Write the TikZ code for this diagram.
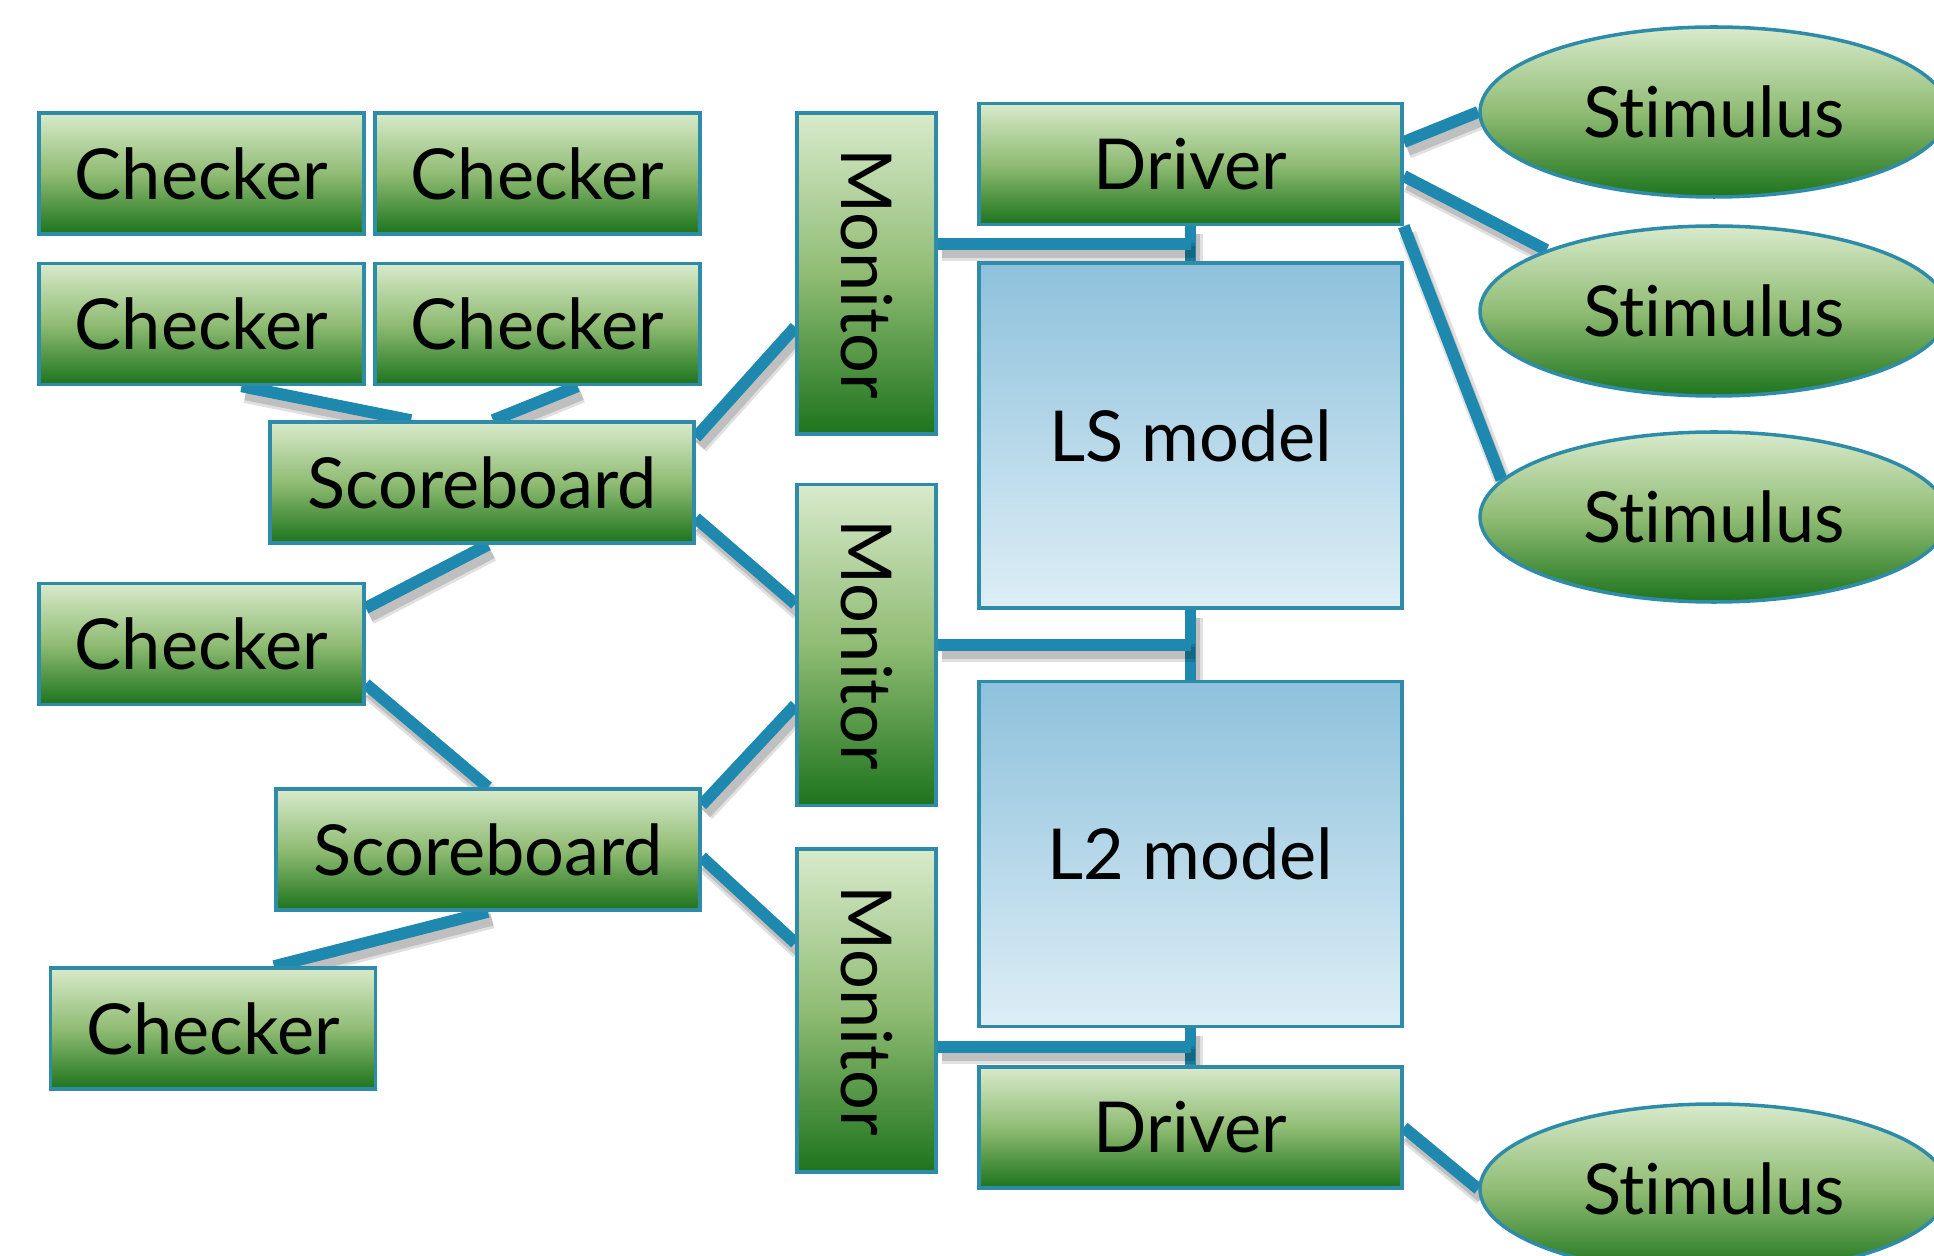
\documentclass[tikz,border=0pt]{standalone}
\usepackage{fontspec}
\setmainfont{Lato}[Ligatures=NoCommon]
\usepackage{tikz}
\usetikzlibrary{shapes.geometric, calc, backgrounds}
\definecolor{verdeclaro}{HTML}{D8EACB}
\definecolor{verdemeio}{HTML}{90BC74}
\definecolor{verdeescuro}{HTML}{1D741C}
\definecolor{azulclaro}{HTML}{DDEEF6}
\definecolor{azulmeio}{HTML}{8EC1DC}
\definecolor{borda}{HTML}{2E8CA8}
\definecolor{azulligacao}{HTML}{1E88AE}

\begin{document}
\begin{tikzpicture}[
    caixa/.style={draw=borda, line width=1pt, inner sep=0pt, minimum width=3.25cm, minimum height=1.21cm,
                  top color=verdeclaro, bottom color=verdeescuro, middle color=verdemeio,
                  font=\fontsize{20}{24}\selectfont},
    monitor/.style={caixa, minimum width=1.39cm, minimum height=3.21cm},
    modelo/.style={draw=borda, line width=1pt, inner sep=0pt, minimum width=4.23cm, minimum height=3.45cm,
                   top color=azulmeio, bottom color=azulclaro, font=\fontsize{20}{24}\selectfont},
    estimulo/.style={ellipse, draw=borda, line width=1pt, inner sep=0pt, minimum width=4.68cm, minimum height=1.70cm,
                     top color=verdeclaro, bottom color=verdeescuro, middle color=verdemeio,
                     font=\fontsize{20}{24}\selectfont},
    ligacao/.style={line width=3.4pt, draw=azulligacao,
                    preaction={draw=black, opacity=0.12, line width=5pt,
                               transform canvas={shift={(0.04,-0.08)}}},
                    preaction={draw=black, opacity=0.15, line width=3.4pt,
                               transform canvas={shift={(0.04,-0.08)}}}}
]
    \useasboundingbox (0,0) rectangle (19.34,12.55);
    \clip (0,0) rectangle (19.34,12.55);

    \node[caixa] (chk1) at (2.015,10.815) {Checker};
    \node[caixa] (chk2) at (5.375,10.815) {Checker};
    \node[caixa] (chk3) at (2.015,9.31) {Checker};
    \node[caixa] (chk4) at (5.375,9.31) {Checker};
    \node[caixa, minimum width=4.24cm] (placar1) at (4.82,7.725) {Scoreboard};
    \node[caixa] (chk5) at (2.015,6.11) {Checker};
    \node[caixa, minimum width=4.24cm] (placar2) at (4.88,4.055) {Scoreboard};
    \node[caixa] (chk6) at (2.13,2.265) {Checker};

    \node[monitor] (mon1) at (8.665,9.815) {\rotatebox{-90}{Monitor}};
    \node[monitor] (mon2) at (8.665,6.10) {\rotatebox{-90}{Monitor}};
    \node[monitor, minimum height=3.23cm] (mon3) at (8.665,2.445) {\rotatebox{-90}{Monitor}};

    \node[caixa, minimum width=4.23cm] (drv1) at (11.905,10.91) {Driver};
    \node[modelo] (ls) at (11.905,8.195) {LS model};
    \node[modelo] (l2) at (11.905,4.01) {L2 model};
    \node[caixa, minimum width=4.23cm] (drv2) at (11.905,1.275) {Driver};

    \node[estimulo] (est1) at (17.14,11.43) {Stimulus};
    \node[estimulo] (est2) at (17.14,9.44) {Stimulus};
    \node[estimulo] (est3) at (17.14,7.38) {Stimulus};
    \node[estimulo] (est4) at (17.14,0.66) {Stimulus};

    \begin{scope}[on background layer]
        \draw[ligacao] ([xshift=0.4cm]chk3.south) -- ([xshift=-0.71cm]placar1.north);
        \draw[ligacao] ([xshift=0.4cm]chk4.south) -- ([xshift=0.11cm]placar1.north);
        \draw[ligacao] ([yshift=0.45cm]placar1.east) -- ([yshift=-0.535cm]mon1.west);
        \draw[ligacao] ([yshift=-0.355cm]placar1.east) -- ([yshift=0.41cm]mon2.west);
        \draw[ligacao] ([xshift=0.06cm]placar1.south) -- ([yshift=0.36cm]chk5.east);
        \draw[ligacao] ([yshift=-0.4cm]chk5.east) -- (placar2.north);
        \draw[ligacao] ([yshift=0.445cm]placar2.east) -- ([yshift=-0.6cm]mon2.west);
        \draw[ligacao] ([yshift=-0.075cm]placar2.east) -- ([yshift=0.675cm]mon3.west);
        \draw[ligacao] (placar2.south) -- ([xshift=0.61cm]chk6.north);

        \coordinate (j1) at ($(drv1.south)!0.5!(ls.north)$);
        \coordinate (j2) at ($(ls.south)!0.5!(l2.north)$);
        \coordinate (j3) at ($(l2.south)!0.5!(drv2.north)$);
        \draw[ligacao] (drv1.south) -- (ls.north);
        \draw[ligacao] (mon1.east |- j1) -- (j1);
        \draw[ligacao] (ls.south) -- (l2.north);
        \draw[ligacao] (mon2.east |- j2) -- (j2);
        \draw[ligacao] (l2.south) -- (drv2.north);
        \draw[ligacao] (mon3.east |- j3) -- (j3);

        \draw[ligacao] ([yshift=0.22cm]drv1.east) -- (est1.west);
        \draw[ligacao] ([yshift=-0.12cm]drv1.east) -- (est2.160);
        \draw[ligacao] (drv1.south east) -- (est3.170);
        \draw[ligacao] (drv2.east) -- (est4.west);
    \end{scope}
\end{tikzpicture}
\end{document}
